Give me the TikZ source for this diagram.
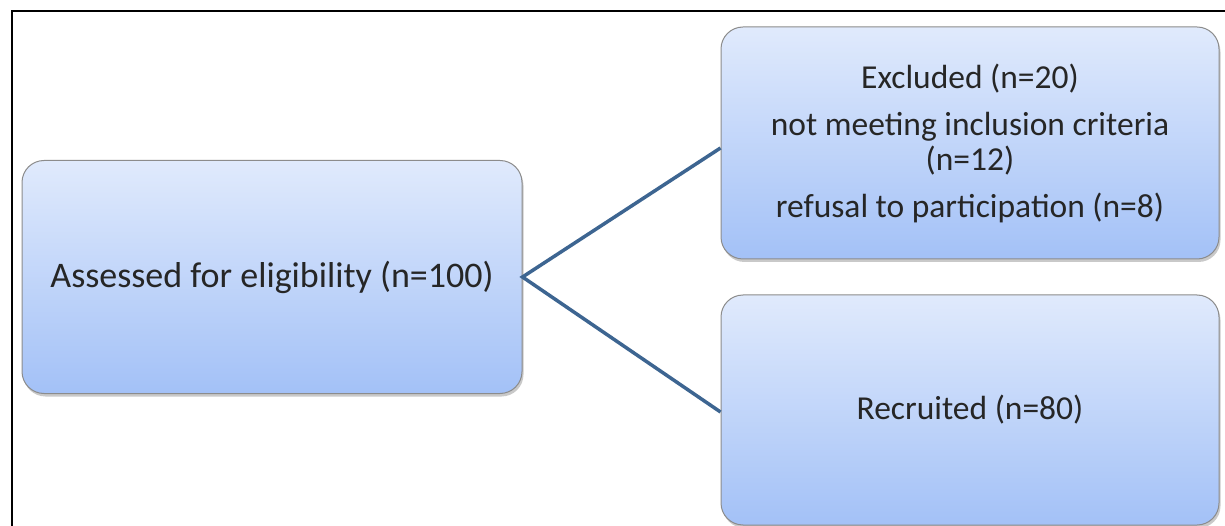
\documentclass[tikz,border=0pt]{standalone}
\usepackage{fontspec}
\setmainfont{Carlito}
\usetikzlibrary{shadows}
\definecolor{boxtop}{HTML}{E0EAFC}
\definecolor{boxbot}{HTML}{A3C1F7}
\definecolor{boxline}{HTML}{8C8C8C}
\definecolor{linkcol}{HTML}{3D6591}
\tikzset{
  flowbox/.style={draw=boxline, line width=1pt, rounded corners=22pt,
    top color=boxtop, bottom color=boxbot, align=center,
    inner sep=0pt, text=black!85,
    drop shadow={shadow xshift=1.5pt, shadow yshift=-3pt, opacity=0.35, fill=black!60}},
  link/.style={draw=linkcol, line width=3.5pt}
}
\begin{document}
\begin{tikzpicture}[x=1pt,y=-1pt]
\useasboundingbox (0,0) rectangle (1225,526);
\fill[white] (0,0) rectangle (1225,526);
% frame
\draw[line width=2pt] (12,526) -- (12,11) -- (1225,11);
% boxes
\node[flowbox, minimum width=500pt, minimum height=233pt,
  font=\fontsize{36}{40}\selectfont] (assess) at (272,277) {Assessed for eligibility (n=100)};
\node[flowbox, minimum width=498pt, minimum height=232pt,
  font=\fontsize{33.5}{35}\selectfont] (excl) at (970,143)
  {Excluded (n=20)\\[12pt] not meeting inclusion criteria\\ (n=12)\\[12pt] refusal to participation (n=8)};
\node[flowbox, minimum width=498pt, minimum height=230pt,
  font=\fontsize{33.5}{36}\selectfont] (recr) at (970,410) {Recruited (n=80)};
% connectors
\draw[link] ([yshift=-5pt]excl.west) -- (assess.east) -- ([yshift=-2pt]recr.west);
\end{tikzpicture}
\end{document}
